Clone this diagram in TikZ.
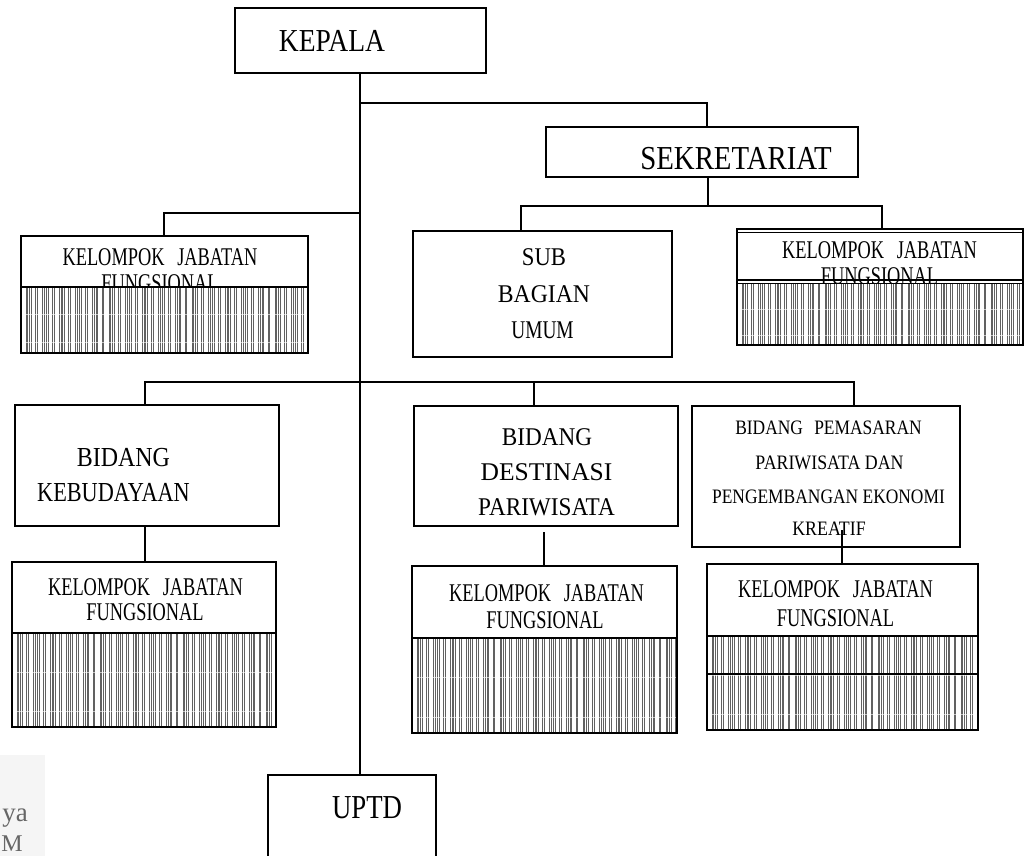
\documentclass[tikz,border=0pt]{standalone}
\usepackage{fontspec}
\setmainfont{Liberation Serif}
\usetikzlibrary{fit}
\newcommand\tf[2]{\fontspec[FakeStretch=#1]{Liberation Serif}\fontsize{#2}{#2}\selectfont}
\newcommand\hatchfill[4]{%
  \begin{scope}
    \clip (#1,#2) rectangle (#3,#4);
    \fill[white] (#1,#2) rectangle (#3,#4);
    \foreach \k in {0,...,18}{
      \foreach \o in {0,1.8,3.6,5.4,9.6,11.4}{
        \draw[hl] ({#1+5+\k*16.6+\o},#2) -- ({#1+5+\k*16.6+\o},#4);
      }}
    \draw[line width=1pt, white, opacity=0.6] (#1,{#2+0.42*(#4-#2)}) -- (#3,{#2+0.42*(#4-#2)});
    \draw[line width=1pt, white, opacity=0.6] (#1,{#2+0.84*(#4-#2)}) -- (#3,{#2+0.84*(#4-#2)});
  \end{scope}}
\tikzset{
  box/.style={draw, line width=2pt, inner sep=0pt},
  conn/.style={line width=2pt},
  thin/.style={line width=1.5pt},
  hl/.style={line width=1pt, black!62},
  txt/.style={inner sep=0pt, text=black},
  kjf/.style={txt, font=\tf{0.72}{25.5}},
}
\newcommand\kjftext{KELOMPOK\hspace{0.5em}JABATAN}
\begin{document}
\begin{tikzpicture}[x=1pt, y=-1pt]
\useasboundingbox (0,0) rectangle (1030,855);
\clip (0,0) rectangle (1030,855);

% faint background fragment (bottom left)
\fill[black!4] (0,755) rectangle (45,860);
\node[inner sep=0pt, anchor=base east, text=black!60, font=\fontsize{27}{27}\selectfont] (fragA) at (28,821) {ya};
\node[inner sep=0pt, anchor=base, text=black!60, font=\fontsize{24}{24}\selectfont] (fragB) at (12,851) {M};

% ---- KEPALA ----
\node[box, fit={(235,8) (486,73)}] (kepala) {};
\node[txt, font=\tf{0.86}{32}] (kepalaT) at (332,41) {KEPALA};

% ---- SEKRETARIAT ----
\node[box, fit={(546,127) (858,177)}] (sek) {};
\node[txt, font=\tf{0.86}{33.5}] (sekT) at (736,159) {SEKRETARIAT};

% ---- SUB BAGIAN UMUM ----
\node[box, fit={(413,231) (672,357)}] (sub) {};
\node[txt, font=\tf{0.89}{25.5}] (subT1) at (544,257) {SUB};
\node[txt, font=\tf{0.93}{25.5}] (subT2) at (544,294) {BAGIAN};
\node[txt, font=\tf{0.76}{25.5}] (subT3) at (542.5,330) {UMUM};

% ---- KJF top right (under Sekretariat) ----
\node[kjf] (kjfRT1) at (879.5,250) {\kjftext};
\node[kjf] (kjfRT2) at (879.5,276) {FUNGSIONAL};
\hatchfill{737}{283}{1023}{345}
\node[box, fit={(737,229) (1023,345)}] (kjfR) {};
\draw[thin] (kjfR.west |- 0,232.5) -- (kjfR.east |- 0,232.5);
\draw[conn] (kjfR.west |- 0,280) -- (kjfR.east |- 0,280);
\draw[thin] (kjfR.west |- 0,283.5) -- (kjfR.east |- 0,283.5);

% ---- KJF top left ----
\node[kjf] (kjfLT1) at (160,257) {\kjftext};
\node[kjf] (kjfLT2) at (160,283) {FUNGSIONAL};
\hatchfill{21}{287}{308}{353}
\node[box, fit={(21,236) (308,353)}] (kjfL) {};
\draw[conn] (kjfL.west |- 0,287) -- (kjfL.east |- 0,287);

% ---- BIDANG KEBUDAYAAN ----
\node[box, fit={(15,405) (279,526)}] (bidK) {};
\node[txt, font=\tf{0.87}{27.5}] (bidKT1) at (123.5,458) {BIDANG};
\node[txt, font=\tf{0.81}{27.5}] (bidKT2) at (113.5,493) {KEBUDAYAAN};

% ---- BIDANG DESTINASI PARIWISATA ----
\node[box, fit={(414,406) (678,526)}] (bidD) {};
\node[txt, font=\tf{0.91}{25.5}] (bidDT1) at (547,437) {BIDANG};
\node[txt, font=\tf{1.0}{25.5}] (bidDT2) at (546.5,472) {DESTINASI};
\node[txt, font=\tf{0.91}{25.5}] (bidDT3) at (546.5,507) {PARIWISATA};

% ---- BIDANG PEMASARAN ----
\node[box, fit={(692,406) (960,547)}] (bidP) {};
\node[txt, font=\tf{0.85}{20.5}] (bidPT1) at (828.5,428) {BIDANG\hspace{0.55em}PEMASARAN};
\node[txt, font=\tf{0.87}{20.5}] (bidPT2) at (829.5,463) {PARIWISATA DAN};
\node[txt, font=\tf{0.85}{20.5}] (bidPT3) at (828.5,497) {PENGEMBANGAN EKONOMI};
\node[txt, font=\tf{0.87}{20.5}] (bidPT4) at (829,529) {KREATIF};

% ---- KJF bottom left ----
\node[kjf] (kjfBLT1) at (145.5,587) {\kjftext};
\node[kjf] (kjfBLT2) at (145,612) {FUNGSIONAL};
\hatchfill{12}{633}{276}{727}
\node[box, fit={(12,562) (276,727)}] (kjfBL) {};
\draw[conn] (kjfBL.west |- 0,633) -- (kjfBL.east |- 0,633);

% ---- KJF bottom middle ----
\node[kjf] (kjfBMT1) at (546.5,593) {\kjftext};
\node[kjf] (kjfBMT2) at (545,620) {FUNGSIONAL};
\hatchfill{412}{638}{677}{733}
\node[box, fit={(412,566) (677,733)}] (kjfBM) {};
\draw[conn] (kjfBM.west |- 0,638) -- (kjfBM.east |- 0,638);

% ---- KJF bottom right ----
\node[kjf] (kjfBRT1) at (835.5,589) {\kjftext};
\node[kjf] (kjfBRT2) at (835.5,618) {FUNGSIONAL};
\hatchfill{707}{636}{978}{730}
\node[box, fit={(707,564) (978,730)}] (kjfBR) {};
\draw[conn] (kjfBR.west |- 0,636) -- (kjfBR.east |- 0,636);
\draw[conn] (kjfBR.west |- 0,674) -- (kjfBR.east |- 0,674);

% ---- UPTD ----
\node[box, fit={(268,775) (436,880)}] (uptd) {};
\node[txt, font=\tf{0.80}{33.5}] (uptdT) at (367,808) {UPTD};

% ---- connectors ----
\draw[conn] (kepala.south -| 360,0) -- (uptd.north -| 360,0);
\draw[conn] (360,103) -| (sek.north -| 707,0);
\coordinate (sekJ) at (708,206);
\draw[conn] (sek.south -| sekJ) -- (sekJ);
\draw[conn] (sub.north -| 521,0) |- (sekJ) -| (kjfR.north -| 882,0);
\draw[conn] (360,213) -| (kjfL.north -| 164,0);
\draw[conn] (bidK.north -| 145,0) -- (145,382) -- (854,382) -- (bidP.north -| 854,0);
\draw[conn] (534,382) -- (bidD.north -| 534,0);
\draw[conn] (bidK.south -| 145,0) -- (kjfBL.north -| 145,0);
\draw[conn] (544,532) -- (kjfBM.north -| 544,0);
\draw[conn] (842,530) -- (kjfBR.north -| 842,0);
\end{tikzpicture}
\end{document}
